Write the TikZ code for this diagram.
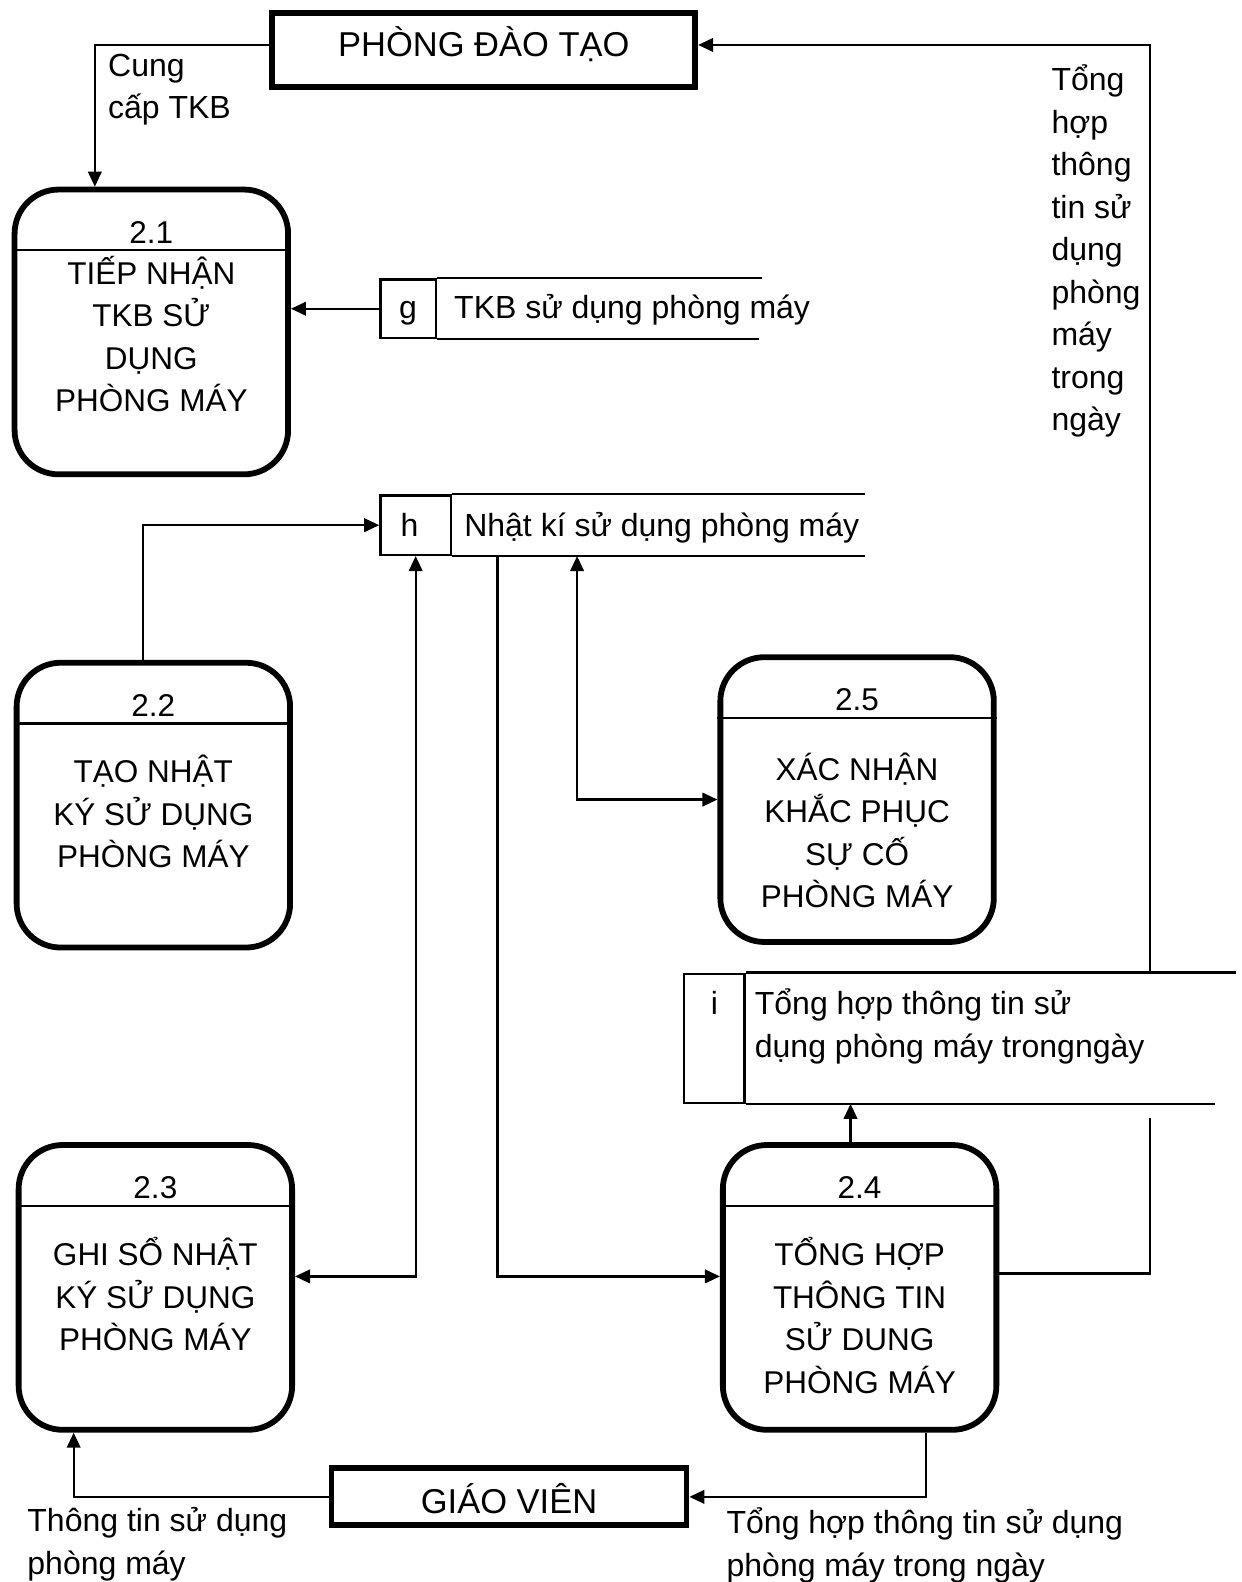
\documentclass[tikz,border=0pt]{standalone}
\usepackage{fontspec}
\setmainfont{Liberation Sans}
\usetikzlibrary{arrows.meta}
\newcommand\procfont{\fontsize{31.5}{42.5}\selectfont}
\newcommand\labfont{\fontsize{32}{42.5}\selectfont}
\newcommand\entfont{\fontsize{34.5}{42.5}\selectfont}
\newcommand\stackc[1]{\begin{tabular}[t]{@{}c@{}}#1\end{tabular}}
\newcommand\stackl[1]{\begin{tabular}[t]{@{}l@{}}#1\end{tabular}}
\begin{document}
\begin{tikzpicture}[x=1.009pt,y=-1.009pt,
  proc/.style={draw, line width=5.8pt, rounded corners=44pt, minimum width=273.5pt,
    minimum height=284.8pt, outer sep=2.9pt, inner sep=0pt},
  ent/.style={draw, line width=5.8pt, outer sep=2.9pt, inner sep=0pt, font=\entfont},
  tag/.style={draw, line width=2.3pt, inner sep=0pt},
  wire/.style={line width=2.3pt},
  flow/.style={wire, -{Triangle[length=15pt,width=13.5pt]}},
  dflow/.style={wire, {Triangle[length=15pt,width=13.5pt]}-{Triangle[length=15pt,width=13.5pt]}},
  ptext/.style={font=\procfont, anchor=base, inner sep=0pt},
  ltext/.style={font=\labfont, anchor=base west, inner sep=0pt},
  num/.style={font=\procfont, anchor=base, inner sep=0pt},
]
\fill[white] (0,0) rectangle (1231,1568);
\useasboundingbox (0,0) rectangle (1231,1568);

% external entities
\node[ent, minimum width=423pt, minimum height=74pt, text height=30pt, text depth=17pt]
  (pdt) at (479.5,49.5) {PHÒNG ĐÀO TẠO};
\node[ent, minimum width=355pt, minimum height=57pt, text height=33pt, text depth=0pt]
  (gv) at (504.5,1483.6) {GIÁO VIÊN};

% processes
\node[proc] (p21) at (150,329) {};
\node[proc] (p22) at (152,798) {};
\node[proc] (p23) at (154,1276) {};
\node[proc] (p24) at (852,1276) {};
\node[proc] (p25) at (849.5,792.5) {};
\foreach \p/\n in {p21/2.1, p22/2.2, p23/2.3, p24/2.4, p25/2.5} {
  \draw[wire] ([yshift=-63.6pt]\p.north west) -- ([yshift=-63.6pt]\p.north east);
  \node[num] (\p-num) at ([yshift=-56.5pt]\p.north) {\n};
}
\node[ptext] (p21-txt) at (150,281.5) {\stackc{TIẾP NHẬN\\TKB SỬ\\DỤNG\\PHÒNG MÁY}};
\node[ptext] (p22-txt) at (152,776) {\stackc{TẠO NHẬT\\KÝ SỬ DỤNG\\PHÒNG MÁY}};
\node[ptext] (p23-txt) at (154,1254.5) {\stackc{GHI SỔ NHẬT\\KÝ SỬ DỤNG\\PHÒNG MÁY}};
\node[ptext] (p24-txt) at (852,1254.5) {\stackc{TỔNG HỢP\\THÔNG TIN\\SỬ DUNG\\PHÒNG MÁY}};
\node[ptext] (p25-txt) at (849.5,773.5) {\stackc{XÁC NHẬN\\KHẮC PHỤC\\SỰ CỐ\\PHÒNG MÁY}};

% data stores
\node[tag, minimum width=55.5pt, minimum height=58.5pt] (gid) at (404.5,306) {};
\draw[wire] (gid.north east) -- (gid.north east -| 755,0);
\draw[wire] (gid.south east) -- (gid.south east -| 752,0);
\node[ltext, anchor=base] (gtag) at (404.5,315.5) {g};
\node[ltext] (gtxt) at (450,315.5) {TKB sử dụng phòng máy};

\node[tag, minimum width=70.6pt, minimum height=59.5pt] (hid) at (412,520.5) {};
\draw[wire] (hid.north east) -- (hid.north east -| 857,0);
\draw[wire] (hid.south east) -- (hid.south east -| 857,0);
\node[ltext, anchor=base] (htag) at (406,532) {h};
\node[ltext] (htxt) at (460,532) {Nhật kí sử dụng phòng máy};

\node[tag, minimum width=60.5pt, minimum height=129pt] (iid) at (708,1029) {};
\draw[wire] (iid.north east) -- (iid.north east -| 1225,0);
\draw[wire] (iid.south east) -- (iid.south east -| 1204,0);
\node[ltext, anchor=base] (itag) at (708,1006) {i};
\node[ltext] (itxt) at (748,1006) {\stackl{Tổng hợp thông tin sử\\dụng phòng máy trongngày}};

% flows
\draw[flow] ([yshift=5pt]pdt.west) -| (p21.north -| 94,0);
\node[ltext] (lab-tkb) at (107,75.5) {\stackl{Cung\\cấp TKB}};

\draw[flow] (iid.north -| 1140,0) |- ([yshift=5pt]pdt.east);
\node[ltext] (lab-sum) at (1042,90) {\stackl{Tổng\\hợp\\thông\\tin sử\\dụng\\phòng\\máy\\trong\\ngày}};

\draw[flow] (gid.west) -- (gid.west -| p21.east);
\draw[flow] (p22.north -| 142,0) |- (hid.west);
\draw[dflow] (hid.south) |- ([yshift=11pt]p23.east);
\draw[flow] (hid.south -| 493,0) |- ([yshift=11pt]p24.west);
\draw[dflow] (hid.south -| 572,0) |- (p25.west);
\draw[flow] (p24.north -| 843,0) -- (iid.south -| 843,0);

\coordinate (brk) at (1140,1108);
\draw[wire] ([yshift=14pt]p24.east) -| (brk);

\draw[flow] (p24.south -| 918,0) |- (gv.east);
\node[ltext] (lab-day) at (720,1520) {\stackl{Tổng hợp thông tin sử dụng\\phòng máy trong ngày}};

\draw[flow] (gv.west) -| (p23.south -| 73,0);
\node[ltext] (lab-use) at (27,1518) {\stackl{Thông tin sử dụng\\phòng máy}};
\end{tikzpicture}
\end{document}
